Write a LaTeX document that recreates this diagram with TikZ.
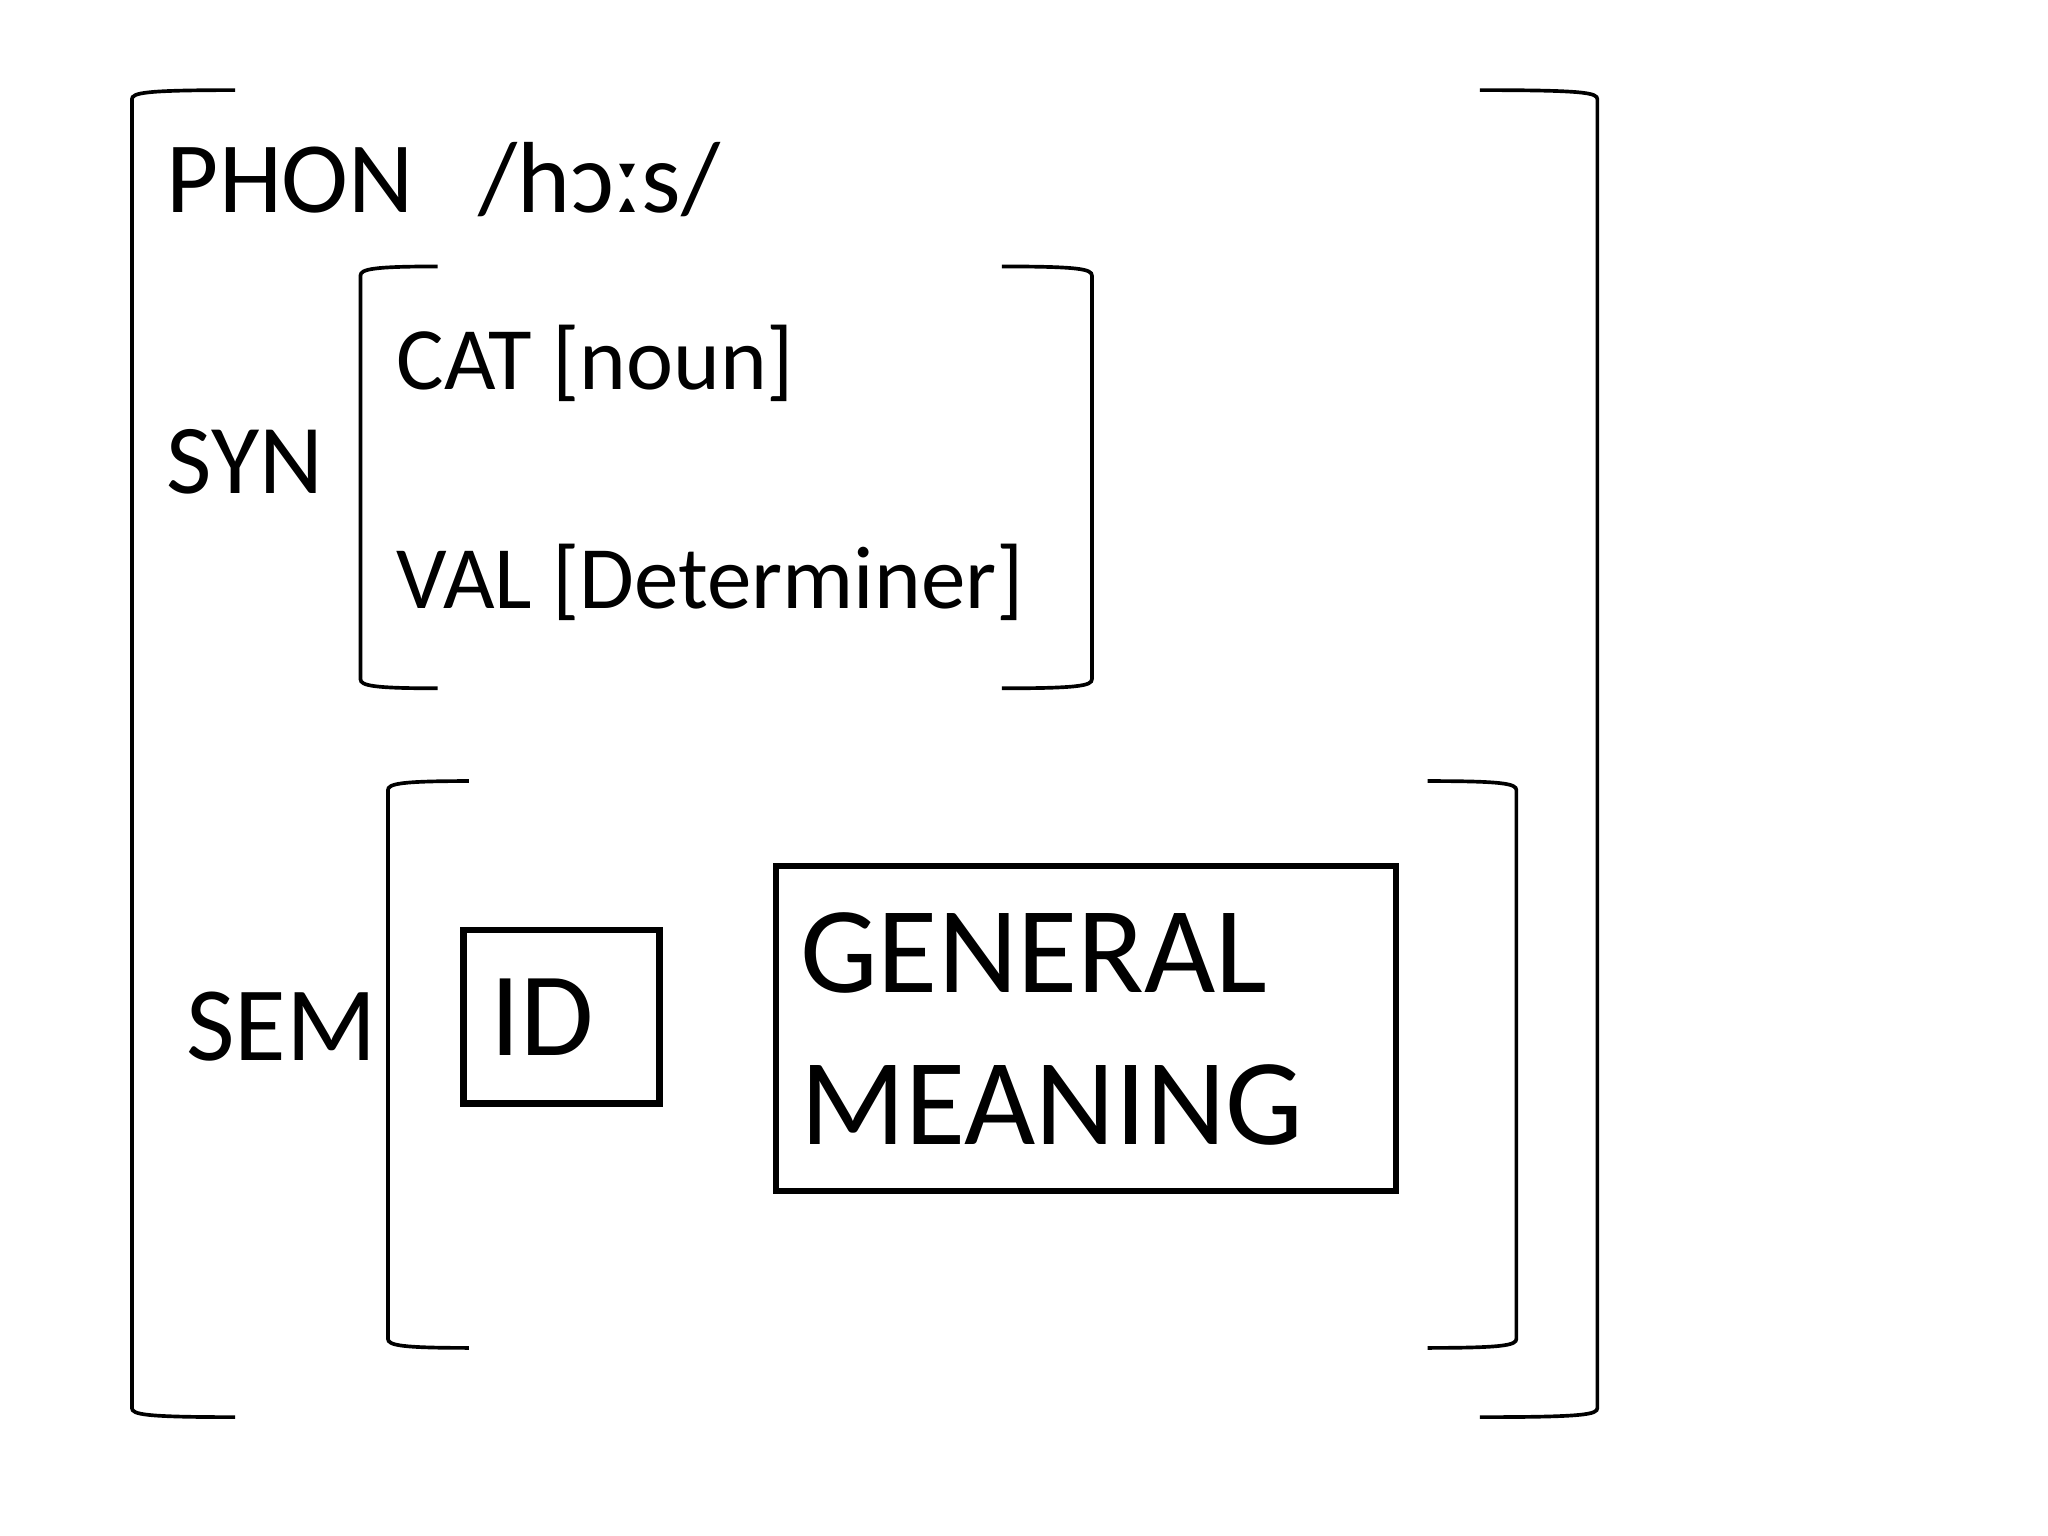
\documentclass[tikz,border=0pt]{standalone}
\usepackage{fontspec}
\setmainfont{Carlito}
\newcommand\mybrL[4]{\draw[br] (#4,#2) .. controls (#1+10,#2) and (#1,#2+2) .. (#1,#2+7) -- (#1,#3-7) .. controls (#1,#3-2) and (#1+10,#3) .. (#4,#3);}
\newcommand\mybrR[4]{\draw[br] (#4,#2) .. controls (#1-10,#2) and (#1,#2+2) .. (#1,#2+7) -- (#1,#3-7) .. controls (#1,#3-2) and (#1-10,#3) .. (#4,#3);}
\begin{document}
\begin{tikzpicture}[x=0.01cm,y=-0.01cm,
  br/.style={line width=0.8pt},
  bx/.style={draw,line width=1.4pt},
  t/.style={anchor=base west,inner sep=0}]
\useasboundingbox (0,0) rectangle (1568,1176);
\mybrL{101}{69}{1085}{180}
\mybrR{1223}{69}{1085}{1133}
\mybrL{276}{204}{527}{335}
\mybrR{836}{204}{527}{767}
\mybrL{297}{598}{1032}{359}
\mybrR{1161}{598}{1032}{1093}
\node[t,font=\fontsize{22}{26}\selectfont] (phon) at (127,163) {PHON};
\node[t,font=\fontsize{22}{26}\selectfont] (ipa) at (366,163) {/hɔːs/};
\node[t,font=\fontsize{21.5}{25}\selectfont] (syn) at (127,378) {SYN};
\node[t,font=\fontsize{19.4}{23}\selectfont] (cat) at (303,298) {CAT [noun]};
\node[t,font=\fontsize{19.4}{23}\selectfont] (val) at (303,466) {VAL [Determiner]};
\node[t,font=\fontsize{23}{27}\selectfont] (sem) at (142,812) {SEM};
\draw[bx] (355,712) rectangle (505,845);
\node[t,font=\fontsize{26}{30}\selectfont] (id) at (375,808) {ID};
\draw[bx] (594,663) rectangle (1069,912);
\node[t,font=\fontsize{26.8}{30}\selectfont] (gen) at (612,760) {GENERAL};
\node[t,font=\fontsize{26.8}{30}\selectfont] (mea) at (612,876) {MEANING};
\end{tikzpicture}
\end{document}
